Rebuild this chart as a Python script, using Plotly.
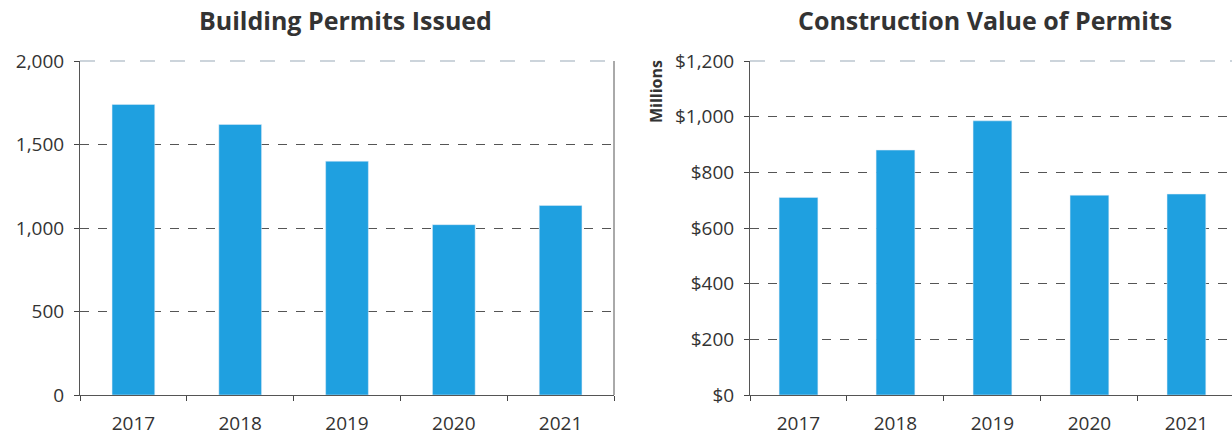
import plotly.graph_objects as go

years = ["2017", "2018", "2019", "2020", "2021"]
permits_issued = [1740, 1620, 1400, 1020, 1135]
construction_value = [710, 880, 985, 718, 722]  # millions of dollars

permit_ticks = [0, 500, 1000, 1500, 2000]
value_ticks = [0, 200, 400, 600, 800, 1000, 1200]
value_tick_text = ["$" + format(v, ",") for v in value_ticks]

BAR = "#1FA0E0"
TEXT = "#333333"
GRID = "#555555"
FRAME = "#9AAAB7"
FONT = "Open Sans"

fig = go.Figure()
fig.add_trace(go.Bar(x=years, y=permits_issued, marker_color=BAR, width=0.4,
                     xaxis="x", yaxis="y", showlegend=False))
fig.add_trace(go.Bar(x=years, y=construction_value, marker_color=BAR, width=0.4,
                     xaxis="x2", yaxis="y2", showlegend=False))

W, H = 1232, 437
common_x = dict(type="category", ticks="outside", tickson="boundaries", ticklen=5,
                tickcolor="#444", showline=True, linecolor="#555", linewidth=1,
                showgrid=False, tickfont=dict(family=FONT, size=19, color=TEXT),
                ticklabelstandoff=11, zeroline=False)
common_y = dict(ticks="outside", ticklen=5, tickcolor="#444", showline=True,
                linecolor="#555", linewidth=1, showgrid=True, gridcolor=GRID,
                griddash="dash", gridwidth=1, zeroline=False,
                tickfont=dict(family=FONT, size=19, color=TEXT),
                ticklabelstandoff=6)

fig.update_layout(
    width=W, height=H,
    margin=dict(l=0, r=0, t=61, b=42),
    paper_bgcolor="white", plot_bgcolor="white",
    xaxis=dict(domain=[80 / W, 614 / W], anchor="y", range=[-0.5, 4.5], **common_x),
    yaxis=dict(domain=[0, 1], anchor="x", range=[0, 2000], tickvals=permit_ticks,
               tickformat=",d", **common_y),
    xaxis2=dict(domain=[750 / W, 1.0], anchor="y2", range=[-0.5, 4.47], **common_x),
    yaxis2=dict(domain=[0, 1], anchor="x2", range=[0, 1200], tickvals=value_ticks,
                ticktext=value_tick_text, **common_y),
    shapes=[
        # right-hand border of the permits panel
        dict(type="line", xref="paper", yref="paper", x0=614 / W, x1=614 / W,
             y0=0, y1=1, line=dict(color="#555", width=1)),
        # faint top frame of both panels
        dict(type="line", xref="paper", yref="paper", x0=80 / W, x1=614 / W,
             y0=1, y1=1, line=dict(color=FRAME, width=1.2, dash="longdash")),
        dict(type="line", xref="paper", yref="paper", x0=750 / W, x1=1.0,
             y0=1, y1=1, line=dict(color=FRAME, width=1.2, dash="longdash")),
    ],
    annotations=[
        dict(text="<b>Building Permits Issued</b>", xref="paper", yref="paper",
             x=345 / W, y=1, yshift=41, showarrow=False, xanchor="center",
             yanchor="middle", font=dict(family=FONT, size=25, color=TEXT)),
        dict(text="<b>Construction Value of Permits</b>", xref="paper", yref="paper",
             x=985 / W, y=1, yshift=41, showarrow=False, xanchor="center",
             yanchor="middle", font=dict(family=FONT, size=25, color=TEXT)),
        dict(text="<b>Millions</b>", xref="paper", yref="paper", x=656 / W,
             y=(437 - 42 - 92) / (437 - 61 - 42), showarrow=False,
             textangle=-90, xanchor="center", yanchor="middle",
             font=dict(family=FONT, size=16, color=TEXT)),
    ],
)

fig.write_html("out.html")
